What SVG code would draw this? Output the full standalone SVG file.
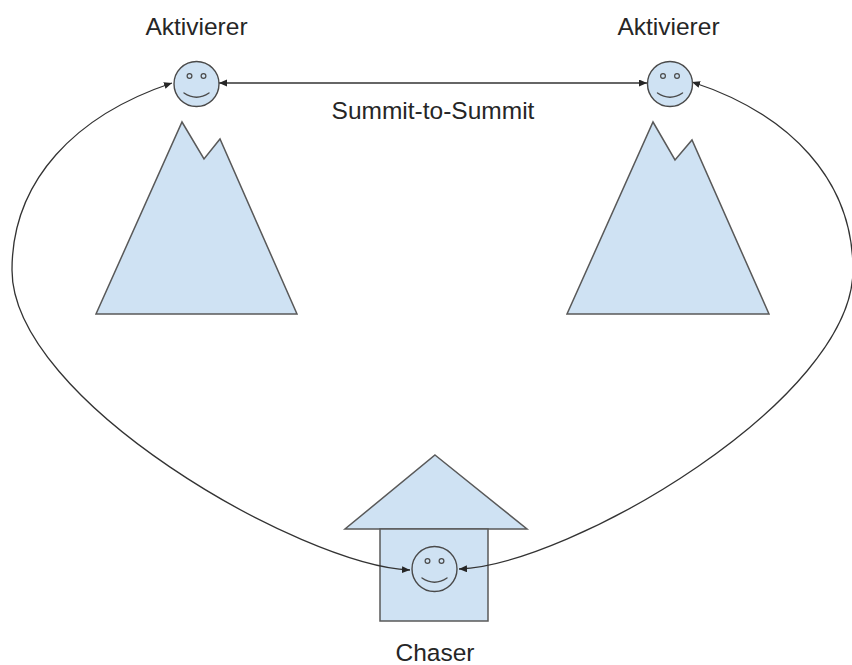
<svg xmlns="http://www.w3.org/2000/svg" width="852" height="665" viewBox="0 0 852 665">
  <defs>
    <style>
      .shape { fill: #cfe2f3; stroke: #595959; stroke-width: 1.5; stroke-linejoin: miter; }
      .face { fill: #cfe2f3; stroke: #4a4a4a; stroke-width: 1.4; }
      .feature { fill: none; stroke: #4a4a4a; stroke-width: 1.4; stroke-linecap: round; }
      .eye { fill: #cfe2f3; stroke: #4a4a4a; stroke-width: 1.2; }
      .link { fill: none; stroke: #333333; stroke-width: 1.3; }
      .label { font-family: "Liberation Sans", Arial, sans-serif; font-size: 24.5px; fill: #262626; text-anchor: middle; }
    </style>
    <marker id="arrow" markerUnits="userSpaceOnUse" markerWidth="9" markerHeight="8" refX="8" refY="3.5" orient="auto-start-reverse">
      <path d="M0,0 L8,3.5 L0,7 Z" fill="#262626"/>
    </marker>
    <g id="smiley">
      <circle class="face" cx="0" cy="0" r="22.5"/>
      <circle class="eye" cx="-7" cy="-8" r="2.4"/>
      <circle class="eye" cx="7" cy="-8" r="2.4"/>
      <path class="feature" d="M-12.5,9 Q0,17.5 12.5,9"/>
    </g>
  </defs>

  <rect width="852" height="665" fill="#ffffff"/>

  <!-- mountains -->
  <g id="mountain-left">
    <polygon class="shape" points="182,122 204,159 220,139 297,314 96,314"/>
  </g>
  <g id="mountain-right">
    <polygon class="shape" points="653,122 675,160 692,140 769,314 567,314"/>
  </g>

  <!-- house of the chaser -->
  <g id="house">
    <polygon class="shape" points="435,455 527,529 345,529"/>
    <rect class="shape" x="380" y="529" width="108" height="92"/>
  </g>

  <!-- connectors -->
  <g id="connectors">
    <path class="link" d="M219,83 L647,83" marker-start="url(#arrow)" marker-end="url(#arrow)"/>
    <path class="link" d="M410,570 C300,565 12,400 12,270 C12,180 76,115 172,83" marker-start="url(#arrow)" marker-end="url(#arrow)"/>
    <path class="link" d="M459,569 C570,565 853,400 853,270 C853,180 790,114 692,82" marker-start="url(#arrow)" marker-end="url(#arrow)"/>
    <text class="label" x="433" y="119">Summit-to-Summit</text>
  </g>

  <!-- people -->
  <g id="activator-left">
    <use href="#smiley" x="196.5" y="84"/>
    <text class="label" x="196.5" y="35">Aktivierer</text>
  </g>
  <g id="activator-right">
    <use href="#smiley" x="670" y="84"/>
    <text class="label" x="668.5" y="35">Aktivierer</text>
  </g>
  <g id="chaser">
    <use href="#smiley" x="434.5" y="569"/>
    <text class="label" x="435" y="661">Chaser</text>
  </g>
</svg>
